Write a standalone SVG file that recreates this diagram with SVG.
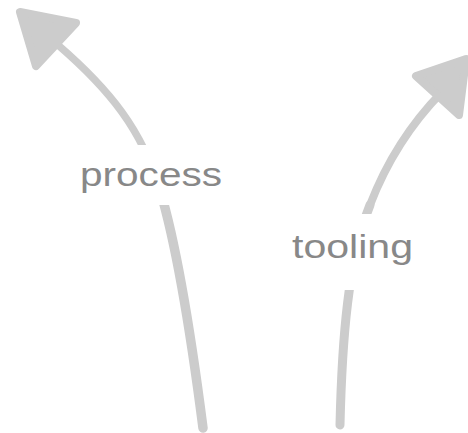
<svg xmlns="http://www.w3.org/2000/svg" width="468" height="433" viewBox="0 0 468 433">
<style>
.line{fill:none;stroke:#cccccc;stroke-linecap:round}
.head{fill:#cccccc;stroke:#cccccc;stroke-width:8;stroke-linejoin:round}
.label{font-family:"Liberation Sans",sans-serif;font-size:34px;fill:#888888}
.bg{fill:#ffffff}
</style>
<rect width="468" height="433" fill="#ffffff"/>
<g id="connectors">
<path class="line" d="M203,428 C193,350 178,250 160,190" stroke-width="9.5"/>
<path class="line" d="M160,190 C142,130 110,90 58,45" stroke-width="7.5"/>
<polygon class="head" points="20,12 76,23 36,66"/>
<path class="line" d="M340,425 C342,340 348,260 370,205" stroke-width="9"/>
<path class="line" d="M370,205 Q395,140 442,92" stroke-width="8"/>
<polygon class="head" points="416,76 466,59 459,115"/>
</g>
<g id="process">
<rect class="bg" x="72" y="145" width="156" height="60"/>
<text class="label" x="80" y="186" textLength="142" lengthAdjust="spacingAndGlyphs">process</text>
</g>
<g id="tooling">
<rect class="bg" x="284" y="214" width="138" height="76"/>
<text class="label" x="292" y="258" textLength="121" lengthAdjust="spacingAndGlyphs">tooling</text>
</g>
</svg>
